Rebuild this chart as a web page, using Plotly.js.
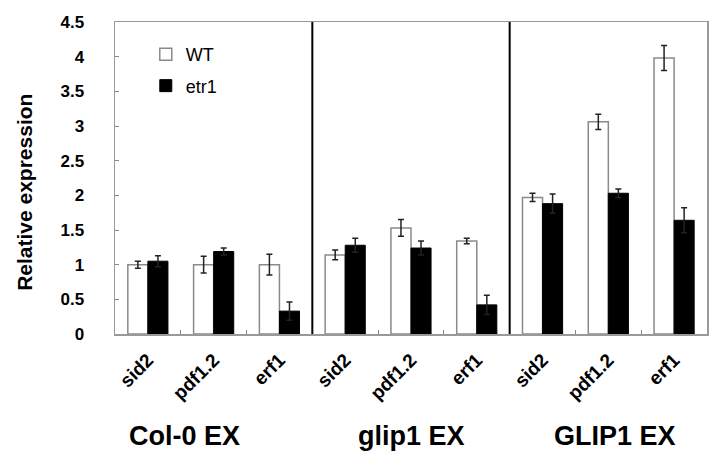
<!DOCTYPE html>
<html>
<head>
<meta charset="utf-8">
<script src="https://cdn.plot.ly/plotly-3.0.1.min.js"></script>
<style>html,body{margin:0;padding:0;background:#fff;}#chart{width:720px;height:476px;}</style>
</head>
<body>
<div id="chart"></div>
<script>
const groups = ['Col-0 EX', 'glip1 EX', 'GLIP1 EX'];
const genes = ['sid2', 'pdf1.2', 'erf1'];
const wtValues   = [1.00, 1.00, 1.00,  1.14, 1.53, 1.34,  1.97, 3.06, 3.98];
const wtErrors   = [0.05, 0.12, 0.15,  0.07, 0.12, 0.04,  0.06, 0.11, 0.18];
const etr1Values = [1.05, 1.19, 0.33,  1.28, 1.24, 0.42,  1.88, 2.03, 1.64];
const etr1Errors = [0.08, 0.05, 0.13,  0.10, 0.10, 0.14,  0.14, 0.06, 0.18];
const yTickVals = [0, 0.5, 1, 1.5, 2, 2.5, 3, 3.5, 4, 4.5];
const yTickText = ['0', '0.5', '1', '1.5', '2', '2.5', '3', '3.5', '4', '4.5'];
const yTitle = 'Relative expression';

const cats = [];
const catText = [];
groups.forEach(g => genes.forEach(s => { cats.push(g + '|' + s); catText.push(s); }));

const font = 'Liberation Sans, Arial, sans-serif';

const traces = [
  {
    type: 'bar', name: 'WT', x: cats, y: wtValues,
    marker: {color: '#ffffff', line: {color: '#8a8a8a', width: 1.5}},
    error_y: {type: 'data', array: wtErrors, visible: true, color: '#222', thickness: 1.5, width: 3},
    legendgroup: 'a'
  },
  {
    type: 'bar', name: 'etr1', x: cats, y: etr1Values,
    marker: {color: '#000000', line: {color: '#000', width: 1}},
    error_y: {type: 'data', array: etr1Errors, visible: true, color: '#222', thickness: 1.5, width: 3},
    legendgroup: 'b'
  }
];

const shapes = [2.5, 5.5].map(v => ({
  type: 'line', xref: 'x', yref: 'paper', x0: v, x1: v, y0: 0, y1: 1,
  line: {color: '#000', width: 2}
}));

const groupLabelX = [0.1166, 0.5, 0.845];
const annotations = groups.map((g, i) => ({
  text: g, xref: 'paper', yref: 'paper', x: groupLabelX[i], y: -0.327,
  xanchor: 'center', yanchor: 'middle', showarrow: false,
  font: {family: font, size: 27, color: '#000', weight: 'bold'}
}));
annotations.push({
  text: yTitle, xref: 'paper', yref: 'paper', x: -0.154, y: 0.455,
  xanchor: 'center', yanchor: 'middle', showarrow: false, textangle: -90,
  font: {family: font, size: 21, color: '#000', weight: 'bold'}
});

const layout = {
  width: 720, height: 476,
  margin: {l: 115, r: 13, t: 22, b: 142},
  paper_bgcolor: '#fff', plot_bgcolor: '#fff',
  barmode: 'group', bargap: 0.39, bargroupgap: 0,
  showlegend: true,
  legend: {
    x: 0.052, y: 0.955, xanchor: 'left', yanchor: 'top',
    font: {family: font, size: 18, color: '#000'},
    bgcolor: 'rgba(0,0,0,0)', tracegroupgap: 5, itemwidth: 30
  },
  xaxis: {
    type: 'category', tickmode: 'array', tickvals: cats, ticktext: catText,
    tickangle: -45, tickson: 'boundaries', ticks: 'inside', ticklen: 4, tickcolor: '#888',
    ticklabelstandoff: 6,
    tickfont: {family: font, size: 19, color: '#000', weight: 'bold'},
    showline: true, linecolor: '#999', linewidth: 1.5, mirror: true,
    showgrid: false, zeroline: false
  },
  yaxis: {
    range: [0, 4.5], tickmode: 'array', tickvals: yTickVals, ticktext: yTickText,
    ticks: 'inside', ticklen: 4, tickcolor: '#888',
    ticklabelstandoff: 26,
    tickfont: {family: font, size: 17, color: '#000', weight: 'bold'},
    showline: true, linecolor: '#999', linewidth: 1.5, mirror: true,
    showgrid: false, zeroline: false
  },
  shapes: shapes,
  annotations: annotations
};

Plotly.newPlot('chart', traces, layout, {displayModeBar: false, staticPlot: true});
</script>
</body>
</html>
